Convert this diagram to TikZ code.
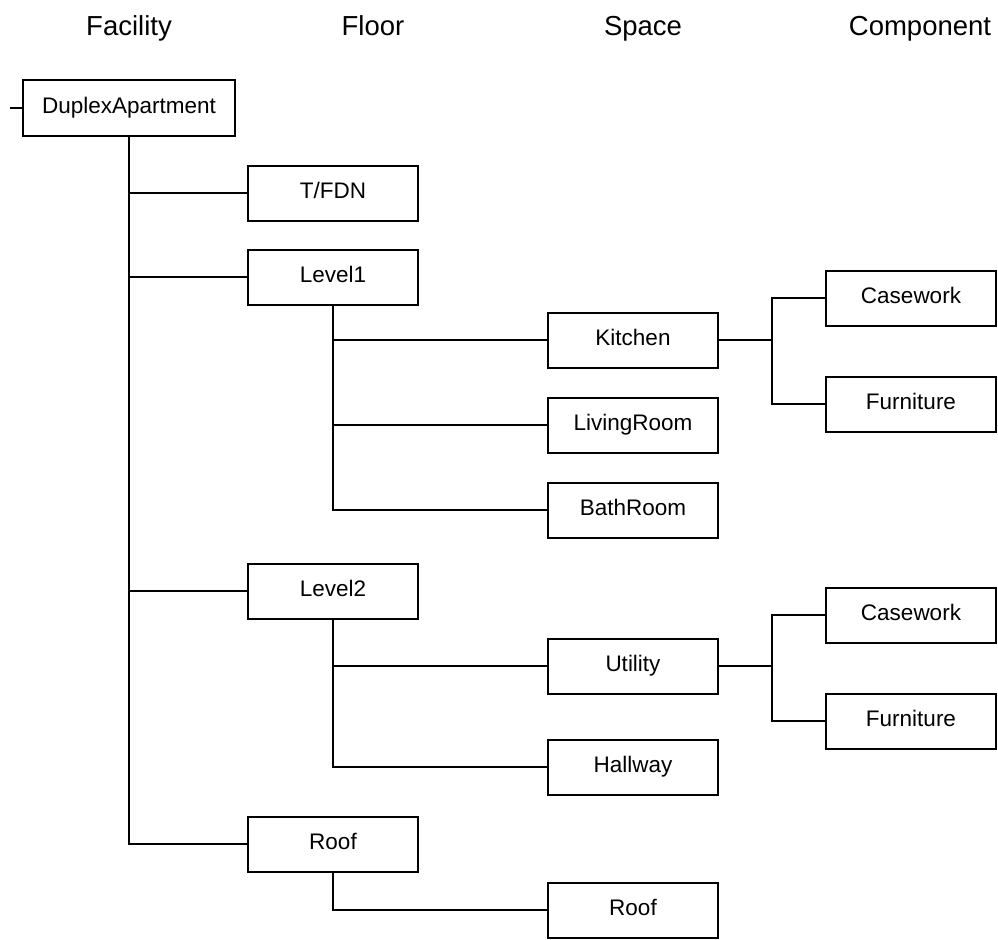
\documentclass[tikz,border=0pt]{standalone}
\usepackage{fontspec}
\setmainfont{Liberation Sans}
\usetikzlibrary{positioning,calc}

\begin{document}
\begin{tikzpicture}[x=0.5pt, y=-0.5pt, line width=1pt,
    item/.style={draw, minimum width=85pt, minimum height=27.5pt, inner sep=0pt,
        text height=8pt, text depth=2.5pt, font=\fontsize{11.25}{13}\selectfont},
    head/.style={anchor=base, font=\fontsize{13.75}{16}\selectfont}]
    \useasboundingbox (0,0) rectangle (998,939);

    % column headings
    \node [head] (hfac) at (129,35) {Facility};
    \node [head] (hflr) at (373,35) {Floor};
    \node [head] (hspc) at (643,35) {Space};
    \node [head] (hcmp) at (920,35) {Component};

    % facility and floors
    \node [item, minimum width=106pt, minimum height=28pt] (dup) at (129,108) {DuplexApartment};
    \node [item] (tfdn) at (333,193) {T/FDN};
    \node [item] (lvl1) at (333,277) {Level1};
    \node [item] (lvl2) at (333,591) {Level2};
    \node [item] (roof) at (333,844) {Roof};

    % spaces
    \node [item] (kitchen) at (633,340) {Kitchen};
    \node [item] (living) at (633,425) {LivingRoom};
    \node [item] (bath) at (633,510) {BathRoom};
    \node [item] (utility) at (633,666) {Utility};
    \node [item] (hallway) at (633,767) {Hallway};
    \node [item] (roofsp) at (633,910) {Roof};

    % components
    \node [item] (cw1) at (911,298) {Casework};
    \node [item] (fu1) at (911,404) {Furniture};
    \node [item] (cw2) at (911,615) {Casework};
    \node [item] (fu2) at (911,721) {Furniture};

    \coordinate (stub) at (10,108);
    \coordinate (kj) at (772,340);
    \coordinate (uj) at (772,666);

    % tree lines
    \draw (stub) -- (dup.west);
    \draw (dup.south) |- (tfdn.west);
    \draw (dup.south) |- (lvl1.west);
    \draw (dup.south) |- (lvl2.west);
    \draw (dup.south) |- (roof.west);

    \draw (lvl1.south) |- (kitchen.west);
    \draw (lvl1.south) |- (living.west);
    \draw (lvl1.south) |- (bath.west);
    \draw (lvl2.south) |- (utility.west);
    \draw (lvl2.south) |- (hallway.west);
    \draw (roof.south) |- (roofsp.west);

    \draw (kitchen.east) -- (kj) |- (cw1.west);
    \draw (kj) |- (fu1.west);
    \draw (utility.east) -- (uj) |- (cw2.west);
    \draw (uj) |- (fu2.west);
\end{tikzpicture}
\end{document}
